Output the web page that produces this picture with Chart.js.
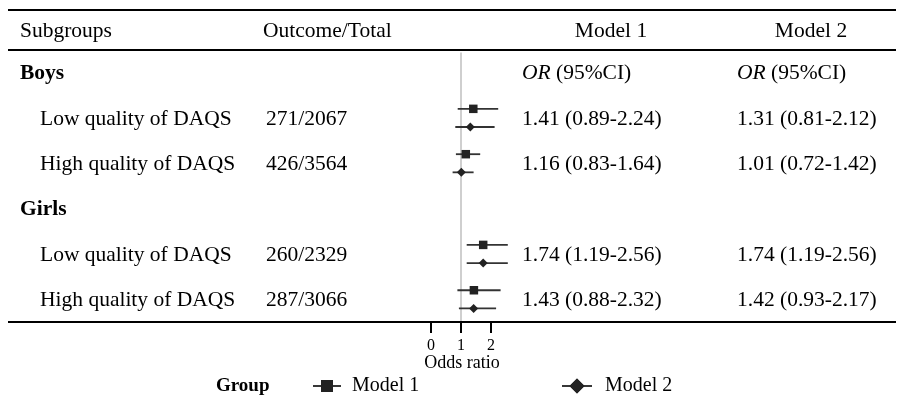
<!DOCTYPE html>
<html>
<head>
<meta charset="utf-8">
<script src="https://cdn.jsdelivr.net/npm/chart.js@4.4.0/dist/chart.umd.min.js"></script>
<style>
html,body{margin:0;padding:0;background:#fff;}
#wrap{width:903px;height:400px;position:relative;}
</style>
</head>
<body>
<div id="wrap"><canvas id="c" width="903" height="400"></canvas></div>
<script>
// ---------- data ----------
const headers = ['Subgroups', 'Outcome/Total', 'Model 1', 'Model 2'];
const rowLabels = ['Boys', 'Low quality of DAQS', 'High quality of DAQS', 'Girls', 'Low quality of DAQS', 'High quality of DAQS'];
const isGroupRow = [true, false, false, true, false, false];
const outcomeTotal = ['', '271/2067', '426/3564', '', '260/2329', '287/3066'];
const model1OR   = [null, 1.41, 1.16, null, 1.74, 1.43];
const model1Low  = [null, 0.89, 0.83, null, 1.19, 0.88];
const model1High = [null, 2.24, 1.64, null, 2.56, 2.32];
const model2OR   = [null, 1.31, 1.01, null, 1.74, 1.42];
const model2Low  = [null, 0.81, 0.72, null, 1.19, 0.93];
const model2High = [null, 2.12, 1.42, null, 2.56, 2.17];
const axisTicks = [0, 1, 2];
const refValue = 1;
const seriesNames = ['Model 1', 'Model 2'];
const legendTitle = 'Group';
const axisTitle = 'Odds ratio';

// ---------- helpers ----------
const FONT = '"Liberation Serif", "Times New Roman", Times, serif';
const rowY = i => i + 1;           // row index -> y value (header is 0)
const OFF = 0.2;                   // vertical offset between models
const fmt = (o, l, h) => `${o.toFixed(2)} (${l.toFixed(2)}-${h.toFixed(2)})`;

const m1Points = [], m2Points = [], ciSets = [];
rowLabels.forEach((_, i) => {
  if (model1OR[i] != null) {
    m1Points.push({x: model1OR[i], y: rowY(i) - OFF});
    ciSets.push([{x: model1Low[i], y: rowY(i) - OFF}, {x: model1High[i], y: rowY(i) - OFF}]);
  }
  if (model2OR[i] != null) {
    m2Points.push({x: model2OR[i], y: rowY(i) + OFF});
    ciSets.push([{x: model2Low[i], y: rowY(i) + OFF}, {x: model2High[i], y: rowY(i) + OFF}]);
  }
});

const PAD_LEFT = 21;
const ZERO_PX = 431, UNIT_PX = 30, W = 903;
const XMIN = (PAD_LEFT - ZERO_PX) / UNIT_PX;
const XMAX = (W - ZERO_PX) / UNIT_PX;

const datasets = [
  {type: 'scatter', label: seriesNames[0], data: m1Points, pointStyle: 'rect', pointRadius: 6,
   backgroundColor: '#222', borderColor: '#222', borderWidth: 0, order: 0},
  {type: 'scatter', label: seriesNames[1], data: m2Points, pointStyle: 'rectRot', pointRadius: 4.5,
   backgroundColor: '#222', borderColor: '#222', borderWidth: 0, order: 0},
  {type: 'line', label: 'ref', data: [{x: refValue, y: 0.56}, {x: refValue, y: 6.5}], borderColor: '#c4c4c4',
   borderWidth: 1.6, pointRadius: 0, order: 5},
];
ciSets.forEach(d => datasets.push({type: 'line', label: 'ci', data: d, borderColor: '#333', borderWidth: 1.8,
  pointRadius: 0, order: 2}));

const tablePlugin = {
  id: 'table',
  afterDraw(chart) {
    const ctx = chart.ctx, ys = chart.scales.y;
    const y = v => ys.getPixelForValue(v);
    ctx.save();
    // horizontal rules
    ctx.strokeStyle = '#000';
    ctx.lineWidth = 2;
    [-0.38, 0.5, 6.5].forEach(v => {
      const py = Math.round(y(v));
      ctx.beginPath(); ctx.moveTo(8, py); ctx.lineTo(896, py); ctx.stroke();
    });
    ctx.fillStyle = '#000';
    ctx.textBaseline = 'middle';
    const FS = 21.5;
    const hy = (y(-0.38) + y(0.5)) / 2 + 1;
    ctx.font = `${FS}px ${FONT}`;
    ctx.textAlign = 'left';
    ctx.fillText(headers[0], 20, hy);
    ctx.fillText(headers[1], 263, hy);
    ctx.textAlign = 'center';
    ctx.fillText(headers[2], 611, hy);
    ctx.fillText(headers[3], 811, hy);
    ctx.textAlign = 'left';
    rowLabels.forEach((lab, i) => {
      const py = y(rowY(i)) + 1;
      if (isGroupRow[i]) {
        ctx.font = `bold ${FS}px ${FONT}`;
        ctx.fillText(lab, 20, py);
      } else {
        ctx.font = `${FS}px ${FONT}`;
        ctx.fillText(lab, 40, py);
        ctx.fillText(outcomeTotal[i], 266, py);
        ctx.fillText(fmt(model1OR[i], model1Low[i], model1High[i]), 522, py);
        ctx.fillText(fmt(model2OR[i], model2Low[i], model2High[i]), 737, py);
      }
    });
    // OR (95%CI) sub-header in the Boys row
    const py0 = y(rowY(0)) + 1;
    [522, 737].forEach(x0 => {
      ctx.font = `italic ${FS}px ${FONT}`;
      ctx.fillText('OR', x0, py0);
      const w = ctx.measureText('OR').width;
      ctx.font = `${FS}px ${FONT}`;
      ctx.fillText(' (95%CI)', x0 + w, py0);
    });
    // legend
    const ly = 386;
    ctx.font = `bold 19px ${FONT}`;
    ctx.fillText(legendTitle, 216, ly);
    ctx.strokeStyle = '#222'; ctx.lineWidth = 1.8;
    ctx.beginPath(); ctx.moveTo(313, ly); ctx.lineTo(341, ly); ctx.stroke();
    ctx.beginPath(); ctx.moveTo(562, ly); ctx.lineTo(592, ly); ctx.stroke();
    ctx.fillStyle = '#222';
    Chart.helpers.drawPoint(ctx, {pointStyle: 'rect', radius: 8.5, borderWidth: 0}, 327, ly);
    ctx.fill();
    Chart.helpers.drawPoint(ctx, {pointStyle: 'rectRot', radius: 7.5, borderWidth: 0}, 577, ly);
    ctx.fill();
    ctx.fillStyle = '#000';
    ctx.font = `20px ${FONT}`;
    ctx.fillText(seriesNames[0], 352, ly);
    ctx.fillText(seriesNames[1], 605, ly);
    ctx.restore();
  }
};

new Chart(document.getElementById('c'), {
  data: {datasets},
  options: {
    responsive: false,
    animation: false,
    devicePixelRatio: 1,
    layout: {autoPadding: false, padding: {left: PAD_LEFT, right: 0, top: 0, bottom: 26}},
    plugins: {legend: {display: false}, tooltip: {enabled: false}},
    scales: {
      x: {
        type: 'linear', position: 'bottom', min: XMIN, max: XMAX,
        afterBuildTicks: s => { s.ticks = axisTicks.map(v => ({value: v})); },
        afterFit: s => { s.height = 52; },
        grid: {drawOnChartArea: false, drawTicks: true, tickLength: 11, color: '#000', lineWidth: 2},
        border: {display: false},
        ticks: {font: {family: FONT, size: 16}, color: '#000', padding: 3, maxRotation: 0, autoSkip: false,
                callback: v => String(v)},
        title: {display: true, text: axisTitle, font: {family: FONT, size: 18}, color: '#000',
                padding: {top: 0, bottom: 0}}
      },
      y: {type: 'linear', reverse: true, min: -0.6, max: 6.5, display: false}
    }
  },
  plugins: [tablePlugin]
});
</script>
</body>
</html>
